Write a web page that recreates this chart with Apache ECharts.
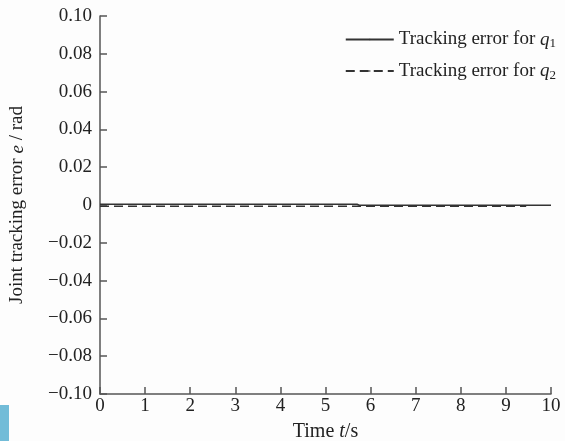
<!DOCTYPE html>
<html>
<head>
<meta charset="utf-8">
<script src="https://cdn.jsdelivr.net/npm/echarts@6/dist/echarts.min.js"></script>
<style>
html,body{margin:0;padding:0;background:#fdfdfd;}
#main{width:565px;height:441px;}
</style>
</head>
<body>
<div id="main"></div>
<script>
var chart = echarts.init(document.getElementById("main"));

// time samples (s) and tracking errors (rad)
var time_q1 = [0, 1, 2, 3, 4, 5, 5.7, 5.75, 6, 7, 8, 9, 10];
var err_q1 = [0.0004, 0.0004, 0.0004, 0.0004, 0.0004, 0.0004, 0.0004, -0.0001, -0.0001, -0.0001, -0.0001, -0.0001, -0.0001];
var time_q2 = [0, 1, 2, 3, 4, 5, 6, 7, 8, 9, 9.45];
var err_q2 = [-0.0006, -0.0006, -0.0006, -0.0006, -0.0006, -0.0006, -0.0006, -0.0006, -0.0006, -0.0006, -0.0006];
var seriesNames = ['Tracking error for q1', 'Tracking error for q2'];

function pairs(xs, ys) {
	return xs.map(function (x, i) { return [x, ys[i]]; });
}

var font = '"Liberation Serif", "DejaVu Serif", serif';
var axisColor = '#555';

option = {
	backgroundColor: '#fdfdfd',
	animation: false,
	textStyle: { fontFamily: font },
	grid: {
		left: 100,
		top: 16,
		right: 14,
		bottom: 47,
		containLabel: false,
		outerBoundsMode: 'none'
	},
	legend: {
		orient: 'vertical',
		right: 4,
		top: 25,
		itemWidth: 48,
		itemHeight: 2,
		itemGap: 11,
		data: seriesNames,
		formatter: function (name) {
			return '{t|Tracking error for }{q|q}{s|' + name.slice(-1) + '}';
		},
		textStyle: {
			color: '#222',
			rich: {
				t: { fontSize: 19, fontFamily: font, color: '#222' },
				q: { fontSize: 19, fontFamily: font, fontStyle: 'italic', color: '#222' },
				s: { fontSize: 13, fontFamily: font, color: '#222', padding: [9, 0, 0, 0] }
			}
		}
	},
	xAxis: {
		type: 'value',
		min: 0,
		max: 10,
		interval: 1,
		name: '{n|Time }{i|t}{n|/s}',
		nameLocation: 'middle',
		nameGap: 28,
		nameTextStyle: {
			rich: {
				n: { fontSize: 20, fontFamily: font, color: '#222' },
				i: { fontSize: 20, fontFamily: font, fontStyle: 'italic', color: '#222' }
			}
		},
		axisLine: { onZero: false, lineStyle: { color: axisColor, width: 1.5 } },
		axisTick: { inside: true, length: 7, lineStyle: { color: axisColor, width: 1.5 } },
		axisLabel: { color: '#222', fontSize: 19, fontFamily: font, margin: 3 },
		splitLine: { show: false }
	},
	yAxis: {
		type: 'value',
		min: -0.1,
		max: 0.1,
		interval: 0.02,
		name: '{n|Joint tracking error }{i|e}{n| / rad}',
		nameLocation: 'middle',
		nameGap: 73,
		nameTextStyle: {
			rich: {
				n: { fontSize: 19, fontFamily: font, color: '#222' },
				i: { fontSize: 19, fontFamily: font, fontStyle: 'italic', color: '#222' }
			}
		},
		axisLine: { show: true, onZero: false, lineStyle: { color: axisColor, width: 1.5 } },
		axisTick: { show: true, inside: true, length: 7, lineStyle: { color: axisColor, width: 1.5 } },
		axisLabel: {
			color: '#222',
			fontSize: 19,
			fontFamily: font,
			margin: 8,
			formatter: function (v) {
				if (Math.abs(v) < 1e-9) return '0';
				return (v < 0 ? '\u2212' : '') + Math.abs(v).toFixed(2);
			}
		},
		splitLine: { show: false }
	},
	series: [
		{
			name: seriesNames[0],
			type: 'line',
			showSymbol: false,
			symbol: 'none',
			data: pairs(time_q1, err_q1),
			lineStyle: { color: '#333', width: 1.5, type: 'solid' },
			itemStyle: { color: '#333' }
		},
		{
			name: seriesNames[1],
			type: 'line',
			showSymbol: false,
			symbol: 'none',
			data: pairs(time_q2, err_q2),
			lineStyle: { color: '#333', width: 1.5, type: [9, 5] },
			itemStyle: { color: '#333' }
		}
	],
	graphic: [{
		type: 'rect',
		left: 0,
		top: 405,
		shape: { width: 9, height: 36 },
		style: { fill: '#72bcd8' }
	}]
};
chart.setOption(option);
</script>
</body>
</html>
